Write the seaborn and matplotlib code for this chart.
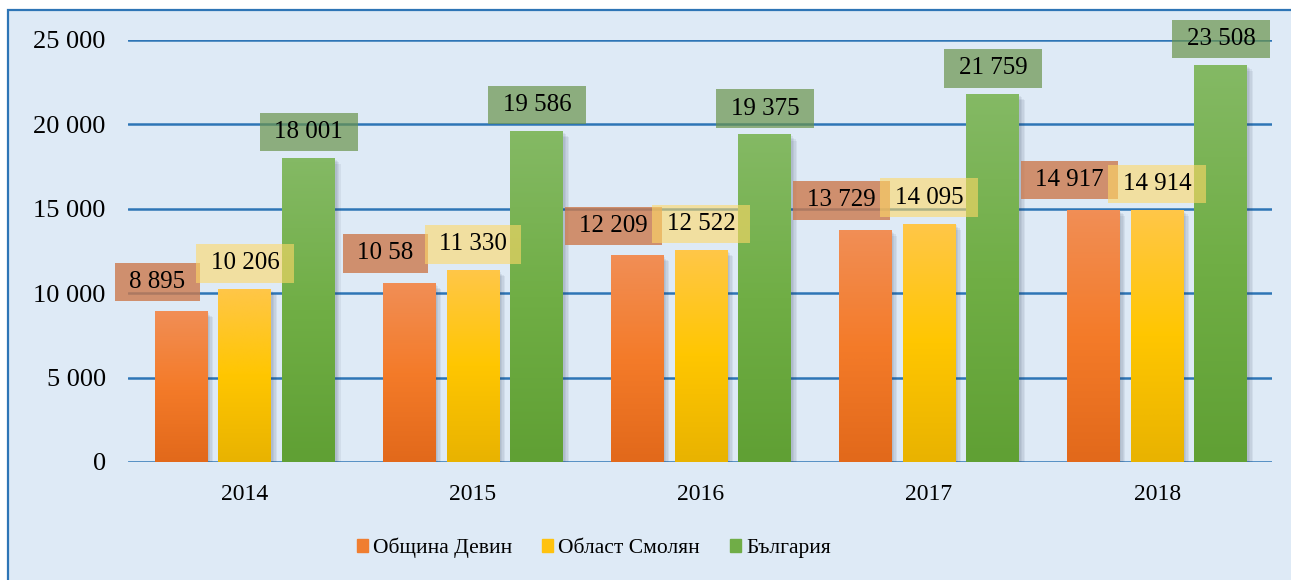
import matplotlib
matplotlib.use('Agg')
import matplotlib.pyplot as plt
import matplotlib.patches as mpatches
import matplotlib.patheffects as pe
from matplotlib.path import Path
from matplotlib.colors import LinearSegmentedColormap
import numpy as np
import seaborn as sns
import pandas as pd

# Chart values
years = ['2014', '2015', '2016', '2017', '2018']
series = ['Община Девин', 'Област Смолян', 'България']
devin = [8895, 10580, 12209, 13729, 14917]
smolyan = [10206, 11330, 12522, 14095, 14914]
bulgaria = [18001, 19586, 19375, 21759, 23508]
devin_labels = ['8 895', '10 58', '12 209', '13 729', '14 917']
smolyan_labels = ['10 206', '11 330', '12 522', '14 095', '14 914']
bulgaria_labels = ['18 001', '19 586', '19 375', '21 759', '23 508']
yticks = [0, 5000, 10000, 15000, 20000, 25000]
ytick_labels = ['0', '5 000', '10 000', '15 000', '20 000', '25 000']

df = pd.DataFrame({
    'year': years * 3,
    'series': [series[0]] * 5 + [series[1]] * 5 + [series[2]] * 5,
    'value': devin + smolyan + bulgaria,
})

colors = ['#F07E30', '#FFC20E', '#70AD47']
# gradient stops (top, middle, bottom) for each series
gradients = [['#F18E55', '#F47B29', '#E2691B'],
             ['#FFC647', '#FFC600', '#E9B300'],
             ['#84B964', '#70AE45', '#60A034']]

sns.set_style('white')
plt.rcParams['font.family'] = ['Liberation Serif', 'DejaVu Serif']
plt.rcParams['text.color'] = 'black'
plt.rcParams['xtick.color'] = 'black'
plt.rcParams['ytick.color'] = 'black'

W, H = 1291, 580
fig = plt.figure(figsize=(W / 100, H / 100), dpi=100)
fig.patch.set_facecolor('white')
bg = mpatches.Rectangle((8 / W, -0.01), 1.0, (H - 10) / H + 0.01,
                        transform=fig.transFigure, facecolor='#DEEAF6',
                        edgecolor='#2E75B6', lw=1.6, zorder=-5)
fig.patches.append(bg)

ax = fig.add_axes([128 / W, 118 / H, 1144 / W, 422 / H])
ax.patch.set_visible(False)

sns.barplot(data=df, x='year', y='value', hue='series', palette=colors,
            width=0.84, gap=0.17, saturation=1, legend=False, ax=ax,
            linewidth=0, zorder=3)

shadow = [pe.SimplePatchShadow(offset=(o, -o), shadow_rgbFace='#2B3A55', alpha=0.07)
          for o in (1, 2, 3, 4)] + [pe.Normal()]

# vertical gradient fill on each bar
for container, stops in zip(ax.containers, gradients):
    cmap = LinearSegmentedColormap.from_list('g', stops[::-1])
    for bar in container:
        bar.set_path_effects(shadow)
        x0, w, h = bar.get_x(), bar.get_width(), bar.get_height()
        grad = np.linspace(0, 1, 64).reshape(-1, 1)
        ax.imshow(grad, extent=(x0, x0 + w, 0, h), origin='lower', cmap=cmap,
                  aspect='auto', zorder=3.5, interpolation='bilinear')

ax.set_xlim(-0.513, 4.504)
ax.set_ylim(0, 25000)
ax.set_yticks(yticks)
ax.set_yticklabels(ytick_labels, fontsize=19)
ax.tick_params(axis='y', length=0, pad=16)
ax.tick_params(axis='x', length=0, pad=16, labelsize=17)
ax.set_xlabel('')
ax.set_ylabel('')
ax.yaxis.grid(True, color='#2E75B6', lw=1.8)
ax.set_axisbelow(True)
for s in ax.spines.values():
    s.set_visible(False)


def label_box(x0, y0, width, height, mutation_size):
    px, py = 0.58 * mutation_size, 0.33 * mutation_size
    return Path([(x0 - px, y0 - py), (x0 + width + px, y0 - py),
                 (x0 + width + px, y0 + height + py), (x0 - px, y0 + height + py),
                 (x0 - px, y0 - py)], closed=True)


# data label boxes
box_styles = [('#CC794C', 0.8, (-17, 21.6)),
              ('#FFD967', 0.6, (0, 19)),
              ('#6A934B', 0.7, (0, 19))]
all_labels = [devin_labels, smolyan_labels, bulgaria_labels]
for container, labels, (fc, al, off) in zip(ax.containers, all_labels, box_styles):
    for bar, lab in zip(container, labels):
        x = bar.get_x() + bar.get_width() / 2
        y = bar.get_height()
        ax.annotate(lab, (x, y), xytext=off, textcoords='offset points',
                    ha='center', va='center', fontsize=18, color='black',
                    bbox=dict(boxstyle=label_box, fc=fc, ec='none', alpha=al),
                    annotation_clip=False, zorder=5)

handles = [mpatches.Rectangle((0, 0), 1, 1, color=c) for c in colors]
fig.legend(handles, series, loc='center', bbox_to_anchor=(594 / W, 1 - 548 / H),
           ncol=3, frameon=False, fontsize=15.5, handlelength=0.5, handleheight=0.5,
           handletextpad=0.25, columnspacing=1.4)

fig.savefig('out.png', dpi=100)
